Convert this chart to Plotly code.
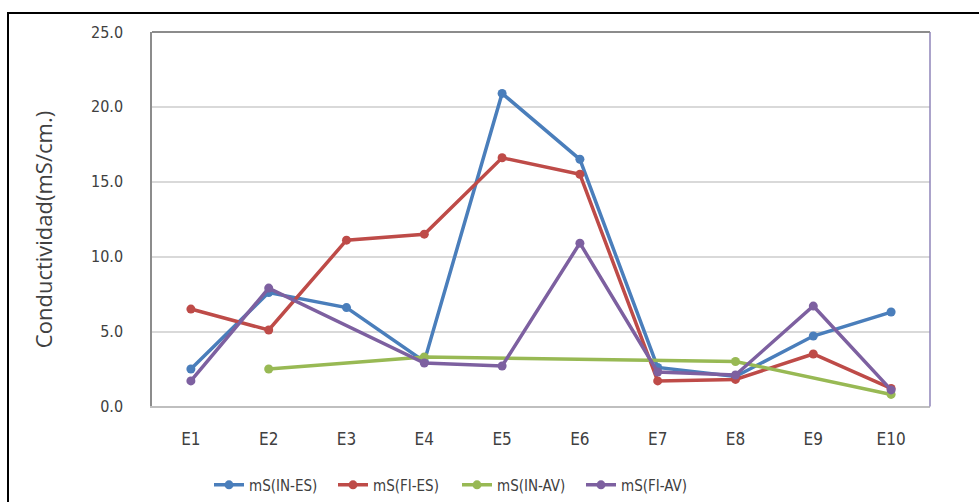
import plotly.graph_objects as go

# Sampling stations
estaciones = ["E1", "E2", "E3", "E4", "E5", "E6", "E7", "E8", "E9", "E10"]

# Conductivity (mS/cm) per series; None = no measurement
in_es = [2.5, 7.6, 6.6, 3.0, 20.9, 16.5, 2.6, 2.0, 4.7, 6.3]
fi_es = [6.5, 5.1, 11.1, 11.5, 16.6, 15.5, 1.7, 1.8, 3.5, 1.2]
in_av = [None, 2.5, None, 3.3, None, None, None, 3.0, None, 0.8]
fi_av = [1.7, 7.9, None, 2.9, 2.7, 10.9, 2.3, 2.1, 6.7, 1.1]

y_ticks = [0, 5, 10, 15, 20, 25]
y_tick_text = ["0.0", "5.0", "10.0", "15.0", "20.0", "25.0"]

series = [
    ("mS(IN-ES)", in_es, "#4A7EBB"),
    ("mS(FI-ES)", fi_es, "#BE4B48"),
    ("mS(IN-AV)", in_av, "#98B954"),
    ("mS(FI-AV)", fi_av, "#7D60A0"),
]

NARROW = "DejaVu Sans Condensed, Liberation Sans Narrow, Arial Narrow, sans-serif"
TEXT = "#404040"

W, H = 979, 502
ML, MR, MT, MB = 152, 49, 32, 0
PLOT_BOTTOM = 408          # pixel row of the x axis
paper_w = W - ML - MR
paper_h = H - MT - MB


def px_x(px):
    return (px - ML) / paper_w


def px_y(py):
    return (H - MB - py) / paper_h


fig = go.Figure()
for name, vals, color in series:
    fig.add_trace(go.Scatter(
        x=estaciones, y=vals, name=name, mode="lines+markers",
        connectgaps=True,
        line=dict(color=color, width=3.5),
        marker=dict(color=color, size=9, symbol="circle"),
    ))

# outer frame of the figure
fig.add_shape(type="rect", xref="paper", yref="paper",
              x0=px_x(8), x1=px_x(W + 20), y0=px_y(H + 20), y1=px_y(13),
              line=dict(color="#000000", width=2), layer="below")
# right and top edges of the plot area
fig.add_shape(type="line", xref="x domain", yref="y domain",
              x0=1, x1=1, y0=0, y1=1,
              line=dict(color="#8F84B8", width=1.5))
fig.add_shape(type="line", xref="x domain", yref="y domain",
              x0=0, x1=1, y0=1, y1=1,
              line=dict(color="#8C8C8C", width=2))

# y axis title
fig.add_annotation(text="Conductividad(mS/cm.)", textangle=-90,
                   xref="paper", yref="paper", x=px_x(43), y=px_y(231),
                   showarrow=False, xanchor="center", yanchor="middle",
                   font=dict(size=22, family="Open Sans, DejaVu Sans", color=TEXT))

fig.update_layout(
    width=W, height=H,
    margin=dict(l=ML, r=MR, t=MT, b=MB),
    paper_bgcolor="white", plot_bgcolor="white",
    font=dict(family=NARROW, color=TEXT, size=15),
    showlegend=True,
    legend=dict(orientation="h", x=px_x(209), xanchor="left", y=px_y(487),
                yanchor="middle", font=dict(size=15, family=NARROW, color=TEXT),
                itemwidth=30, entrywidth=79, entrywidthmode="pixels",
                bgcolor="rgba(0,0,0,0)"),
    xaxis=dict(
        showgrid=False, showline=True, linecolor="#BFBFBF", linewidth=1.5,
        ticks="", ticklabelstandoff=16, automargin=False,
        tickfont=dict(size=17, family=NARROW, color=TEXT),
        range=[-0.5, 9.5],
    ),
    yaxis=dict(
        domain=[px_y(PLOT_BOTTOM), 1],
        range=[0, 25], tickvals=y_ticks, ticktext=y_tick_text,
        showgrid=True, gridcolor="#D9D9D9", gridwidth=1.5,
        showline=True, linecolor="#8C8C8C", linewidth=1.5,
        ticks="", ticklabelstandoff=24, automargin=False,
        tickfont=dict(size=16, family=NARROW, color=TEXT),
        zeroline=False,
    ),
)

fig.write_html("out.html")
